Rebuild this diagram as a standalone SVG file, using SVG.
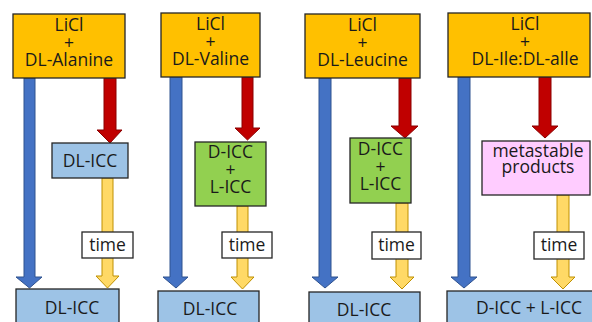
<svg xmlns="http://www.w3.org/2000/svg" width="592" height="322" viewBox="0 0 592 322">
<style>
text{font-family:"Open Sans","Liberation Sans",sans-serif;font-size:17.5px;fill:#1a1a1a;text-anchor:middle}
.top{fill:#FFC000;stroke:#262626;stroke-width:1.3}
.lb{fill:#9DC3E6;stroke:#262626;stroke-width:1.3}
.gr{fill:#92D050;stroke:#262626;stroke-width:1.3}
.pk{fill:#FFCCFF;stroke:#262626;stroke-width:1.3}
.tm{fill:#FFFFFF;stroke:#262626;stroke-width:1.3}
.ab{fill:#4472C4;stroke:#2F528F;stroke-width:1}
.ar{fill:#C00000;stroke:#8B0000;stroke-width:1}
.ay{fill:#FFD966;stroke:#BF9000;stroke-width:1}
</style>
<rect width="592" height="322" fill="#ffffff"/>
<g id="connectors">
<!-- panel 1 -->
<polygon class="ab" points="24,78 35,78 35,277 42,277 29.5,288 16,277 24,277"/>
<polygon class="ar" points="104,78 116,78 116,130 122,130 110,143 97,130 104,130"/>
<polygon class="ay" points="102,178 113,178 113,276 119,276 107.5,288 96,276 102,276"/>
<!-- panel 2 -->
<polygon class="ab" points="170,77 182,77 182,277 188,277 176,288 163,277 170,277"/>
<polygon class="ar" points="242,77 253,77 253,128 260,128 247.5,140 235,128 242,128"/>
<polygon class="ay" points="237,206 248,206 248,277 254,277 242.5,289 231,277 237,277"/>
<!-- panel 3 -->
<polygon class="ab" points="319,78 331,78 331,277 338,277 325,288 312,277 319,277"/>
<polygon class="ar" points="399,78 411,78 411,126 418,126 405,138 391,126 399,126"/>
<polygon class="ay" points="396,203 408,203 408,277 414,277 402,289 390,277 396,277"/>
<!-- panel 4 -->
<polygon class="ab" points="458,77 470,77 470,277 477,277 464,288 451,277 458,277"/>
<polygon class="ar" points="539,77 551,77 551,126 558,126 545,138 532,126 539,126"/>
<polygon class="ay" points="557,195 569,195 569,277 575,277 563,289 551,277 557,277"/>
</g>
<g id="p1-top"><rect class="top" x="13" y="14" width="112" height="64"/>
<text x="69" y="31">LiCl</text><text x="69" y="48.5">+</text><text x="69" y="66">DL-Alanine</text></g>
<g id="p1-mid"><rect class="lb" x="52" y="143" width="76" height="35"/><text x="90" y="167">DL-ICC</text></g>
<g id="p1-time"><rect class="tm" x="82" y="232" width="51" height="26"/><text x="107.5" y="251">time</text></g>
<g id="p1-bot"><rect class="lb" x="16" y="289" width="103" height="40"/><text x="72" y="314">DL-ICC</text></g>

<g id="p2-top"><rect class="top" x="161" y="13" width="99" height="64"/>
<text x="210.5" y="30">LiCl</text><text x="210.5" y="47.5">+</text><text x="210.5" y="65">DL-Valine</text></g>
<g id="p2-mid"><rect class="gr" x="195" y="142" width="71" height="64"/>
<text x="230.5" y="158">D-ICC</text><text x="230.5" y="175.5">+</text><text x="230.5" y="193">L-ICC</text></g>
<g id="p2-time"><rect class="tm" x="222" y="232" width="50" height="26"/><text x="247" y="251">time</text></g>
<g id="p2-bot"><rect class="lb" x="158" y="291" width="101" height="40"/><text x="210" y="315">DL-ICC</text></g>

<g id="p3-top"><rect class="top" x="305" y="14" width="115" height="64"/>
<text x="362.5" y="31">LiCl</text><text x="362.5" y="48.5">+</text><text x="362.5" y="66">DL-Leucine</text></g>
<g id="p3-mid"><rect class="gr" x="350" y="138" width="61" height="65"/>
<text x="380.5" y="155">D-ICC</text><text x="380.5" y="172.5">+</text><text x="380.5" y="190">L-ICC</text></g>
<g id="p3-time"><rect class="tm" x="372" y="232" width="49" height="27"/><text x="396.5" y="251">time</text></g>
<g id="p3-bot"><rect class="lb" x="309" y="292" width="111" height="40"/><text x="364" y="316">DL-ICC</text></g>

<g id="p4-top"><rect class="top" x="448" y="13" width="142" height="64"/>
<text x="525" y="30">LiCl</text><text x="525" y="47.5">+</text><text x="525" y="65">DL-Ile:DL-alle</text></g>
<g id="p4-mid"><rect class="pk" x="482" y="141" width="108" height="54"/>
<text x="538" y="157">metastable</text><text x="538" y="173">products</text></g>
<g id="p4-time"><rect class="tm" x="534" y="232" width="50" height="27"/><text x="559" y="251">time</text></g>
<g id="p4-bot"><rect class="lb" x="447" y="291" width="150" height="40"/><text x="529" y="314">D-ICC + L-ICC</text></g>
</svg>
